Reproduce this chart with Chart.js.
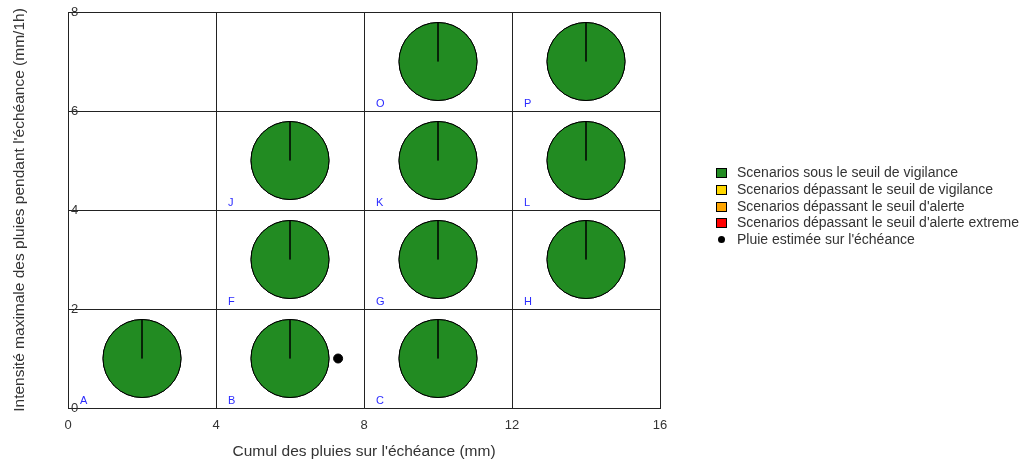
<!DOCTYPE html>
<html>
<head>
<meta charset="utf-8">
<script src="https://cdn.jsdelivr.net/npm/chart.js@4"></script>
<style>
    body { margin: 0; background: #fff; }
    #wrap { position: relative; width: 1023px; height: 464px; }
    #legend { position: absolute; left: 716px; top: 164px; font: 14px "Liberation Sans", Arial, sans-serif; color: #333; }
    .item { height: 16.75px; line-height: 16.75px; white-space: nowrap; }
    .sw { display: inline-block; width: 11px; height: 10px; border: 1px solid #000; box-sizing: border-box; vertical-align: -1px; margin-right: 10px; }
    .dot { display: inline-block; width: 7px; height: 7px; border-radius: 50%; background: #000; vertical-align: 1px; margin: 0 12px 0 2px; }
</style>
</head>
<body>
<div id="wrap">
    <canvas id="chart" width="1023" height="464"></canvas>
    <div id="legend"></div>
</div>
<script>
// cells of the grid that hold a pie (name, centre)
var cellNames = ['A', 'B', 'C', 'F', 'G', 'H', 'J', 'K', 'L', 'O', 'P'];
var cellX = [2, 6, 10, 6, 10, 14, 6, 10, 14, 10, 14];
var cellY = [1, 1, 1, 3, 3, 3, 5, 5, 5, 7, 7];

// share of scenarios per class, one value per cell
var shareSousVigilance = [1, 1, 1, 1, 1, 1, 1, 1, 1, 1, 1];
var shareVigilance = [0, 0, 0, 0, 0, 0, 0, 0, 0, 0, 0];
var shareAlerte = [0, 0, 0, 0, 0, 0, 0, 0, 0, 0, 0];
var shareExtreme = [0, 0, 0, 0, 0, 0, 0, 0, 0, 0, 0];

var scenarioLabels = [
    'Scenarios sous le seuil de vigilance',
    'Scenarios dépassant le seuil de vigilance',
    "Scenarios dépassant le seuil d'alerte",
    "Scenarios dépassant le seuil d'alerte extreme"
];
var scenarioColors = ['#228B22', '#FFD700', '#FFA500', '#FF0000'];

// estimated rain
var rainLabel = "Pluie estimée sur l'échéance";
var rainX = [7.3];
var rainY = [1];

var xTitle = "Cumul des pluies sur l'échéance (mm)";
var yTitle = "Intensité maximale des pluies pendant l'échéance (mm/1h)";

var shares = [shareSousVigilance, shareVigilance, shareAlerte, shareExtreme];
var fontFamily = '"Liberation Sans", Arial, sans-serif';

// Legend
var legend = document.getElementById('legend');
scenarioLabels.forEach(function(label, k) {
    var row = document.createElement('div');
    row.className = 'item';
    row.innerHTML = '<span class="sw" style="background:' + scenarioColors[k] + '"></span>' + label;
    legend.appendChild(row);
});
var rowRain = document.createElement('div');
rowRain.className = 'item';
rowRain.innerHTML = '<span class="dot"></span>' + rainLabel;
legend.appendChild(rowRain);

// Draw pie slices on top of each bubble, and the cell letters
var piePlugin = {
    id: 'pies',
    afterDatasetDraw: function(chart, args) {
        if (args.index !== 0) return;
        var c = chart.ctx;
        c.save();
        args.meta.data.forEach(function(pt, i) {
            var r = pt.options.radius;
            var a = -Math.PI / 2;
            shares.forEach(function(s, k) {
                if (!s[i]) return;
                var b = a + s[i] * 2 * Math.PI;
                c.beginPath();
                c.moveTo(pt.x, pt.y);
                c.arc(pt.x, pt.y, r, a, b);
                c.closePath();
                c.fillStyle = scenarioColors[k];
                c.fill();
                c.lineWidth = 1;
                c.strokeStyle = '#000';
                c.stroke();
                a = b;
            });
        });
        c.restore();
    },
    afterDraw: function(chart) {
        var c = chart.ctx;
        var xs = chart.scales.x, ys = chart.scales.y;
        c.save();
        c.font = '11px ' + fontFamily;
        c.fillStyle = '#2b2bff';
        c.textAlign = 'left';
        c.textBaseline = 'alphabetic';
        cellNames.forEach(function(name, i) {
            var px = xs.getPixelForValue(cellX[i] - 2) + 12;
            var py = ys.getPixelForValue(cellY[i] - 1) - 4;
            c.fillText(name, px, py);
        });
        c.restore();
    }
};

var ctx = document.getElementById('chart');
new Chart(ctx, {
    type: 'bubble',
    data: {
        datasets: [{
            label: scenarioLabels[0],
            data: cellX.map(function(x, i) { return { x: x, y: cellY[i], r: 39 }; }),
            backgroundColor: scenarioColors[0],
            borderColor: '#000',
            borderWidth: 1
        }, {
            type: 'scatter',
            label: rainLabel,
            data: rainX.map(function(x, i) { return { x: x, y: rainY[i] }; }),
            pointRadius: 4.5,
            backgroundColor: '#000',
            borderColor: '#000'
        }]
    },
    options: {
        responsive: false,
        animation: false,
        events: [],
        layout: { autoPadding: false, padding: { left: 0, right: 363, top: 12, bottom: 0 } },
        plugins: { legend: { display: false }, tooltip: { enabled: false } },
        scales: {
            x: {
                type: 'linear', min: 0, max: 16,
                ticks: { stepSize: 4, padding: 10, color: '#333', font: { family: fontFamily, size: 13 } },
                grid: { color: '#222', drawTicks: false },
                border: { color: '#222' },
                title: { display: true, text: xTitle, color: '#333', font: { family: fontFamily, size: 15.5 }, padding: { top: 0, bottom: 3 } },
                afterFit: function(s) { s.height = 56; }
            },
            y: {
                type: 'linear', min: 0, max: 8,
                ticks: { stepSize: 2, mirror: true, padding: 3, color: '#333', font: { family: fontFamily, size: 13 } },
                grid: { color: '#222', drawTicks: false },
                border: { color: '#222' },
                title: { display: true, text: yTitle, color: '#333', font: { family: fontFamily, size: 15.5 }, padding: { top: 10, bottom: 0 } },
                afterFit: function(s) { s.width = 68; }
            }
        }
    },
    plugins: [piePlugin]
});
</script>
</body>
</html>
